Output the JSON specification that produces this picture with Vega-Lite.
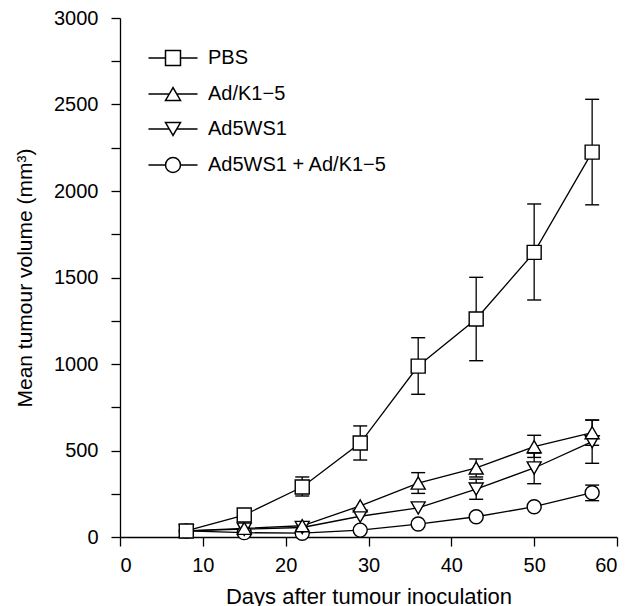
{
  "$schema": "https://vega.github.io/schema/vega-lite/v6.json",
  "autosize": {"type": "none"},
  "padding": {"left": 120, "top": 18, "right": 13, "bottom": 69},
  "width": 497,
  "height": 519,
  "background": "white",
  "config": {
    "view": {"stroke": null},
    "font": "Liberation Sans",
    "axis": {
      "grid": false,
      "domainColor": "black",
      "domainWidth": 1.3,
      "tickColor": "black",
      "tickWidth": 1.3,
      "tickSize": 9,
      "labelFontSize": 20,
      "labelColor": "black",
      "titleFontSize": 21,
      "titleFontWeight": "normal",
      "titleColor": "black",
      "labelFont": "Liberation Sans",
      "titleFont": "Liberation Sans"
    }
  },
  "data": {
    "values": [
      {"group": "Ad5WS1 + Ad/K1−5", "day": 8, "mean": 35},
      {"group": "Ad5WS1 + Ad/K1−5", "day": 15, "mean": 25},
      {"group": "Ad5WS1 + Ad/K1−5", "day": 22, "mean": 22},
      {"group": "Ad5WS1 + Ad/K1−5", "day": 29, "mean": 40},
      {"group": "Ad5WS1 + Ad/K1−5", "day": 36, "mean": 75},
      {"group": "Ad5WS1 + Ad/K1−5", "day": 43, "mean": 117},
      {"group": "Ad5WS1 + Ad/K1−5", "day": 50, "mean": 175},
      {"group": "Ad5WS1 + Ad/K1−5", "day": 57, "mean": 256, "lo": 210, "hi": 300},
      {"group": "Ad5WS1", "day": 8, "mean": 35},
      {"group": "Ad5WS1", "day": 15, "mean": 45},
      {"group": "Ad5WS1", "day": 22, "mean": 55},
      {"group": "Ad5WS1", "day": 29, "mean": 120},
      {"group": "Ad5WS1", "day": 36, "mean": 168},
      {"group": "Ad5WS1", "day": 43, "mean": 277, "lo": 218, "hi": 334},
      {"group": "Ad5WS1", "day": 50, "mean": 399, "lo": 308, "hi": 485},
      {"group": "Ad5WS1", "day": 57, "mean": 551, "lo": 426, "hi": 676},
      {"group": "Ad/K1−5", "day": 8, "mean": 35},
      {"group": "Ad/K1−5", "day": 15, "mean": 50},
      {"group": "Ad/K1−5", "day": 22, "mean": 65},
      {"group": "Ad/K1−5", "day": 29, "mean": 180},
      {"group": "Ad/K1−5", "day": 36, "mean": 312, "lo": 252, "hi": 372},
      {"group": "Ad/K1−5", "day": 43, "mean": 399, "lo": 347, "hi": 451},
      {"group": "Ad/K1−5", "day": 50, "mean": 522, "lo": 460, "hi": 588},
      {"group": "Ad/K1−5", "day": 57, "mean": 603, "lo": 530, "hi": 676},
      {"group": "PBS", "day": 8, "mean": 35},
      {"group": "PBS", "day": 15, "mean": 127},
      {"group": "PBS", "day": 22, "mean": 289, "lo": 237, "hi": 347},
      {"group": "PBS", "day": 29, "mean": 543, "lo": 445, "hi": 642},
      {"group": "PBS", "day": 36, "mean": 988, "lo": 825, "hi": 1152},
      {"group": "PBS", "day": 43, "mean": 1260, "lo": 1019, "hi": 1501},
      {"group": "PBS", "day": 50, "mean": 1645, "lo": 1370, "hi": 1925},
      {"group": "PBS", "day": 57, "mean": 2225, "lo": 1920, "hi": 2530}
    ]
  },
  "encoding": {
    "x": {
      "field": "day",
      "type": "quantitative",
      "scale": {"domain": [0, 60], "nice": false, "zero": false},
      "axis": {
        "title": "Days after tumour inoculation",
        "titleFontSize": 22,
        "values": [0, 10, 20, 30, 40, 50, 60],
        "labelPadding": 9,
        "titlePadding": 11,
        "format": "d"
      }
    }
  },
  "layer": [
    {
      "mark": {"type": "line", "color": "black", "strokeWidth": 1.3},
      "encoding": {
        "y": {
          "field": "mean",
          "type": "quantitative",
          "scale": {"domain": [0, 3000], "nice": false},
          "axis": {
            "title": "Mean tumour volume (mm³)",
            "values": [0, 250, 500, 750, 1000, 1250, 1500, 1750, 2000, 2250, 2500, 2750, 3000],
            "labelExpr": "datum.value % 500 === 0 ? datum.label : ''",
            "format": "d",
            "labelPadding": 13,
            "titlePadding": 18
          }
        },
        "detail": {"field": "group"}
      }
    },
    {
      "transform": [{"filter": "isValid(datum.lo)"}],
      "mark": {"type": "rule", "color": "black", "strokeWidth": 1.3},
      "encoding": {
        "y": {"field": "lo", "type": "quantitative"},
        "y2": {"field": "hi"}
      }
    },
    {
      "transform": [{"filter": "isValid(datum.lo)"}],
      "mark": {"type": "tick", "orient": "horizontal", "color": "black", "size": 14, "thickness": 1.4, "opacity": 1},
      "encoding": {
        "y": {"field": "lo", "type": "quantitative"}
      }
    },
    {
      "transform": [{"filter": "isValid(datum.hi)"}],
      "mark": {"type": "tick", "orient": "horizontal", "color": "black", "size": 14, "thickness": 1.4, "opacity": 1},
      "encoding": {
        "y": {"field": "hi", "type": "quantitative"}
      }
    },
    {
      "mark": {"type": "point", "filled": true, "fill": "white", "stroke": "black", "strokeWidth": 1.4, "size": 196, "opacity": 1},
      "encoding": {
        "y": {"field": "mean", "type": "quantitative"},
        "shape": {
          "field": "group",
          "type": "nominal",
          "scale": {
            "domain": ["PBS", "Ad/K1−5", "Ad5WS1", "Ad5WS1 + Ad/K1−5"],
            "range": ["square", "triangle-up", "triangle-down", "circle"]
          },
          "legend": null
        }
      }
    },
    {
      "transform": [{"filter": "datum.day < 0"}],
      "mark": {"type": "point", "filled": true, "fill": "white", "stroke": "black", "strokeWidth": 1.3, "size": 225, "opacity": 1},
      "encoding": {
        "y": {"field": "mean", "type": "quantitative"},
        "shape": {
          "field": "group",
          "type": "nominal",
          "scale": {
            "domain": ["PBS", "Ad/K1−5", "Ad5WS1", "Ad5WS1 + Ad/K1−5"],
            "range": [
              "M -3.27 0 L -1 0 M 1 0 L 3.27 0 M -1 -1 L 1 -1 L 1 1 L -1 1 Z",
              "M -3.27 0 L -0.5 0 M 0.5 0 L 3.27 0 M 0 -0.866 L -1 0.866 L 1 0.866 Z",
              "M -3.27 0 L -0.5 0 M 0.5 0 L 3.27 0 M 0 0.866 L -1 -0.866 L 1 -0.866 Z",
              "M -3.27 0 L -1 0 M 1 0 L 3.27 0 M 1 0 A 1 1 0 1 1 -1 0 A 1 1 0 1 1 1 0 Z"
            ]
          },
          "legend": {
            "title": null,
            "orient": "none",
            "legendX": 43,
            "legendY": 30,
            "padding": 0,
            "symbolSize": 225,
            "symbolOffset": 0,
            "labelOffset": 25,
            "rowPadding": 15,
            "labelFontSize": 20,
            "labelColor": "black",
            "labelFont": "Liberation Sans",
            "labelLimit": 400
          }
        }
      }
    }
  ],
  "resolve": {"scale": {"shape": "independent"}}
}
